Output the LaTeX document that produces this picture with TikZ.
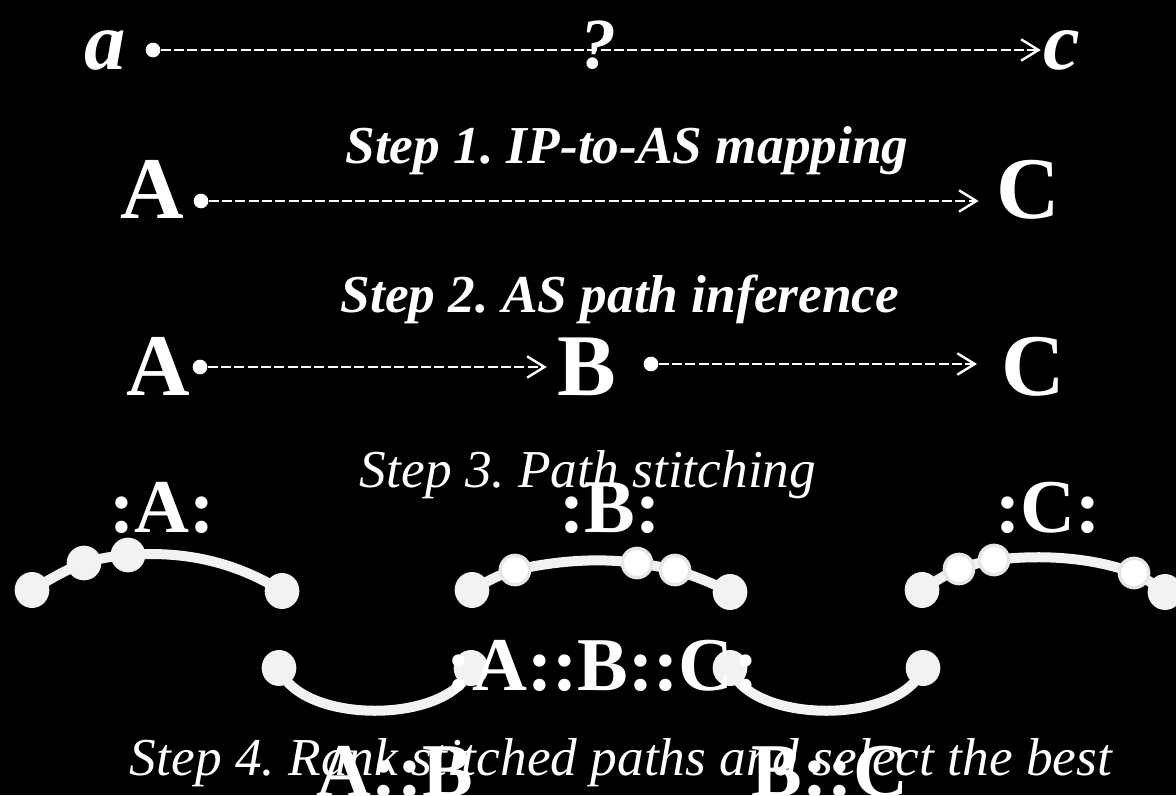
\documentclass[tikz,border=0pt]{standalone}
\usepackage{fontspec}
\setmainfont{Liberation Serif}
\usetikzlibrary{arrows.meta, shapes.geometric}
\definecolor{dotgray}{HTML}{F2F2F2}
\definecolor{ringgray}{HTML}{E6E6E6}
\frenchspacing

\begin{document}
\begin{tikzpicture}[x=0.75pt, y=-0.75pt,
    txt/.style={text=white, inner sep=0pt, anchor=base},
    ipname/.style={txt, font=\fontsize{62}{62}\selectfont\bfseries\itshape},
    asname/.style={txt, font=\fontsize{66}{66}\selectfont\bfseries},
    stepbold/.style={txt, font=\fontsize{40}{40}\selectfont\bfseries\itshape},
    stepplain/.style={txt, font=\fontsize{40}{40}\selectfont\itshape},
    stitch/.style={txt, font=\fontsize{57}{57}\selectfont\bfseries},
    startdot/.style={circle, fill=white, inner sep=0pt, minimum size=11pt},
    dasharrow/.style={white, line width=2pt, dash pattern=on 7.5pt off 2.5pt,
        -{Straight Barb[length=13pt, width=16pt, line width=1.8pt]}},
    arcline/.style={dotgray, line width=7.5pt},
    enddot/.style={ellipse, fill=dotgray, inner sep=0pt, minimum width=26pt, minimum height=27pt},
    middot/.style={circle, fill=dotgray, inner sep=0pt, minimum size=26pt},
    ringdot/.style={circle, fill=white, draw=ringgray, line width=2.5pt, inner sep=0pt, minimum size=22pt}
]
\useasboundingbox (0,0) rectangle (1176,795);
\fill[black] (0,0) rectangle (1176,795);

%IP level
\node[ipname] (ipa) at (105,70) {a};
\node[ipname, font=\fontsize{54}{54}\selectfont\bfseries\itshape] (qm) at (598,69) {?};
\node[ipname] (ipc) at (1062,70) {c};
\node[startdot] (d0) at (153,50) {};
\draw[dasharrow] (d0) -- ([xshift=-2pt]d0 -| ipc.west);

%step 1
\node[stepbold] (s1) at (627,163) {Step 1. IP-to-AS mapping};
\node[asname] (a1) at (152,218) {A};
\node[asname] (c1) at (1028,218) {C};
\node[startdot] (d1) at (201,201) {};
\draw[dasharrow] (d1) -- ([xshift=-13pt]d1 -| c1.west);

%step 2
\node[stepbold] (s2) at (620,312) {Step 2. AS path inference};
\node[asname] (a2) at (158,395) {A};
\node[asname] (b2) at (587,395) {B};
\node[asname] (c2) at (1033,395) {C};
\node[startdot] (d2) at (200,367) {};
\node[startdot] (d3) at (651,364) {};
\draw[dasharrow] (d2) -- ([xshift=-8pt]d2 -| b2.west);
\draw[dasharrow] (d3) -- ([xshift=-18pt]d3 -| c2.west);

%step 3: path pieces
\coordinate (p1) at (32,590);   \coordinate (p2) at (84,563);
\coordinate (p3) at (128,555);  \coordinate (p4) at (282,591);
\coordinate (q1) at (472,590);  \coordinate (q2) at (515,570);
\coordinate (q3) at (637,563);  \coordinate (q4) at (675,570);
\coordinate (q5) at (730,592);
\coordinate (r1) at (922,590);  \coordinate (r2) at (959,569);
\coordinate (r3) at (994,560);  \coordinate (r4) at (1134,573);
\coordinate (r5) at (1165,592);
\draw[arcline] (p1) .. controls (55,576) and (70,568) .. (p2)
    .. controls (100,558) and (115,556) .. (p3)
    .. controls (190,550) and (240,565) .. (p4);
\draw[arcline] (q1) .. controls (486,582) and (500,574) .. (q2)
    .. controls (560,560) and (600,558) .. (q3)
    .. controls (650,565) and (662,567) .. (q4)
    .. controls (695,576) and (712,583) .. (q5);
\draw[arcline] (r1) .. controls (934,582) and (946,574) .. (r2)
    .. controls (970,565) and (982,562) .. (r3)
    .. controls (1050,553) and (1100,560) .. (r4)
    .. controls (1145,578) and (1155,585) .. (r5);
\foreach \p in {p1,p4,q1,q5,r1,r5}
    \node[enddot] (e\p) at (\p) {};
\foreach \p in {p2,p3}
    \node[middot] (m\p) at (\p) {};
\foreach \p in {q2,q3,q4,r2,r3,r4}
    \node[ringdot] (m\p) at (\p) {};
\node[stepplain] (s3) at (588,487) {Step 3. Path stitching};
\node[stitch] (ka) at (162,532) {:A:};
\node[stitch] (kb) at (610,532) {:B:};
\node[stitch] (kc) at (1048,532) {:C:};

%step 4: stitched paths
\coordinate (u1) at (279,668);  \coordinate (u2) at (471,668);
\coordinate (v1) at (730,668);  \coordinate (v2) at (923,668);
\draw[arcline] (u1) .. controls (300,725) and (450,725) .. (u2);
\draw[arcline] (v1) .. controls (751,725) and (902,725) .. (v2);
\foreach \p in {u1,u2,v1,v2}
    \node[enddot] (e\p) at (\p) {};
\node[stitch] (abc) at (603,690) {:A::B::C:};
\node[stepplain] (s4) at (621,775) {Step 4. Rank stitched paths and select the best};
\node[stitch] (ab) at (395,796) {A::B};
\node[stitch] (bc) at (830,796) {B::C};
\end{tikzpicture}
\end{document}
